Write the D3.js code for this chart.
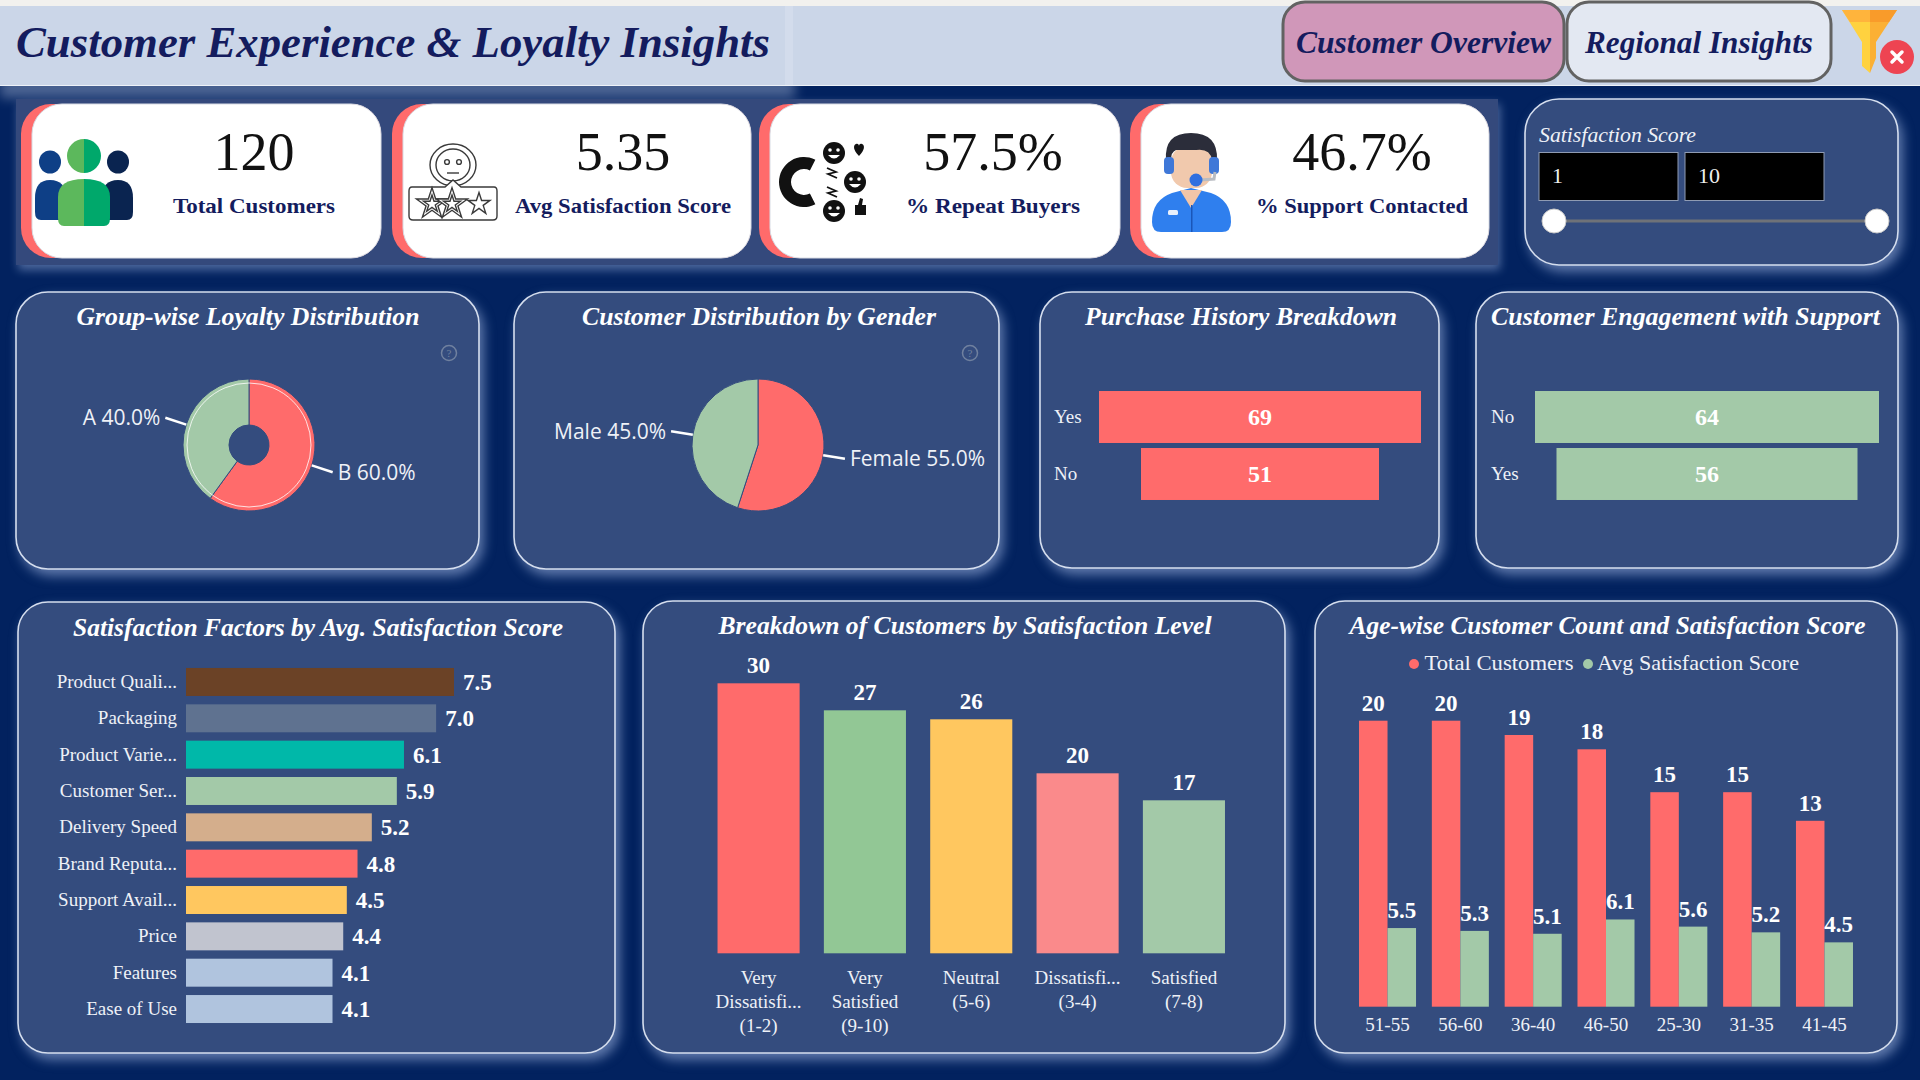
<!DOCTYPE html>
<html>
<head>
<meta charset="utf-8">
<script src="https://cdn.jsdelivr.net/npm/d3@7"></script>
<style>
  html, body { margin: 0; padding: 0; background: #02225f; }
  svg { display: block; position: absolute; left: 0; top: 0; }
  text { font-family: "Liberation Serif", serif; }
  .domain, .tick line { display: none; }
  .tick text { font-family: "Liberation Serif", serif; fill: #eef1f7; }
  .value { font-weight: bold; fill: #fff; text-anchor: middle; }
  .title { font-weight: bold; font-style: italic; fill: #fff; text-anchor: middle; }
</style>
</head>
<body>
<div id="chart"></div>
<script>
// ---- data ----
const kpiValues = ["120", "5.35", "57.5%", "46.7%"];
const kpiLabels = ["Total Customers", "Avg Satisfaction Score", "% Repeat Buyers", "% Support Contacted"];

const loyaltyGroups = ["B", "A"];
const loyaltyShares = [60, 40];
const genderGroups = ["Female", "Male"];
const genderShares = [55, 45];

const purchaseCats = ["Yes", "No"];
const purchaseVals = [69, 51];
const supportCats = ["No", "Yes"];
const supportVals = [64, 56];

const factorCats = ["Product Quali...", "Packaging", "Product Varie...", "Customer Ser...", "Delivery Speed",
  "Brand Reputa...", "Support Avail...", "Price", "Features", "Ease of Use"];
const factorVals = [7.5, 7.0, 6.1, 5.9, 5.2, 4.8, 4.5, 4.4, 4.1, 4.1];
const factorColors = ["#6b4226", "#5f7290", "#00b8a9", "#a3c9a8", "#d4ae8c", "#ff6b6b", "#ffc75f", "#c1c4cf", "#b0c4de", "#b0c4de"];

const levelCats = ["Very\nDissatisfi...\n(1-2)", "Very\nSatisfied\n(9-10)", "Neutral\n(5-6)", "Dissatisfi...\n(3-4)", "Satisfied\n(7-8)"];
const levelVals = [30, 27, 26, 20, 17];
const levelColors = ["#ff6b6b", "#92c795", "#ffc75f", "#fa8a8b", "#a3c9a8"];

const ageCats = ["51-55", "56-60", "36-40", "46-50", "25-30", "31-35", "41-45"];
const ageCustomers = [20, 20, 19, 18, 15, 15, 13];
const ageScores = [5.5, 5.3, 5.1, 6.1, 5.6, 5.2, 4.5];
const ageSeries = ["Total Customers", "Avg Satisfaction Score"];

const red = "#ff6b6b", green = "#a3c9a8", navy = "#141c5e";

const svg = d3.select("#chart").append("svg")
  .attr("width", 1920).attr("height", 1080)
  .attr("role", "img")
  .attr("aria-label", "Customer Experience and Loyalty Insights dashboard");

svg.append("rect").attr("width", 1920).attr("height", 1080).attr("fill", "#02225f");

// ---- header ----
svg.append("rect").attr("x", 0).attr("y", 0).attr("width", 1920).attr("height", 6).attr("fill", "#f2f1ee");
svg.append("rect").attr("x", 0).attr("y", 78).attr("width", 795).attr("height", 20).attr("fill", "#d6e0f5")
  .style("filter", "blur(6px)").attr("opacity", 0.35);
svg.append("rect").attr("x", 0).attr("y", 6).attr("width", 1920).attr("height", 79).attr("fill", "#cbd6e8");
svg.append("rect").attr("x", 785).attr("y", 6).attr("width", 8).attr("height", 79).attr("fill", "#d3dcec");
svg.append("line").attr("x1", 0).attr("x2", 1920).attr("y1", 85.5).attr("y2", 85.5).attr("stroke", "#eef2f8");

svg.append("text").attr("x", 16).attr("y", 57)
  .attr("font-size", 44).attr("font-weight", "bold").attr("font-style", "italic").attr("fill", navy)
  .attr("textLength", 754).attr("lengthAdjust", "spacingAndGlyphs")
  .text("Customer Experience & Loyalty Insights");

const navButtons = [
  { label: "Customer Overview", x: 1283, w: 281, fill: "#d097b9", tw: 255 },
  { label: "Regional Insights", x: 1567, w: 264, fill: "#e3e8f2", tw: 228 }
];
navButtons.forEach(b => {
  svg.append("rect").attr("x", b.x).attr("y", 2).attr("width", b.w).attr("height", 79).attr("rx", 22)
    .attr("fill", b.fill).attr("stroke", "#626262").attr("stroke-width", 3);
  svg.append("text").attr("x", b.x + b.w / 2).attr("y", 53).attr("text-anchor", "middle")
    .attr("font-size", 31).attr("font-weight", "bold").attr("font-style", "italic").attr("fill", navy)
    .attr("textLength", b.tw).attr("lengthAdjust", "spacingAndGlyphs")
    .text(b.label);
});

// filter icon
svg.append("path").attr("d", "M1842,10 L1870,10 L1870,73 L1862,66 L1862,42 Z").attr("fill", "#ffd23f");
svg.append("path").attr("d", "M1870,10 L1897,10 L1876,42 L1876,58 L1870,73 Z").attr("fill", "#fbb034");
svg.append("path").attr("d", "M1842,10 L1870,10 L1870,22 L1850,22 Z").attr("fill", "#ffb43c");
svg.append("path").attr("d", "M1870,10 L1897,10 L1889,22 L1870,22 Z").attr("fill", "#f99b2a");
svg.append("circle").attr("cx", 1897).attr("cy", 57).attr("r", 17).attr("fill", "#ee4452");
svg.append("path").attr("d", "M1892,52 L1902,62 M1902,52 L1892,62").attr("stroke", "#fff").attr("stroke-width", 3.5).attr("stroke-linecap", "round");

// ---- panels ----
function panel(x, y, w, h, r) {
  svg.append("rect").attr("x", x).attr("y", y).attr("width", w).attr("height", h).attr("rx", r)
    .attr("fill", "#344c7e").attr("stroke", "#d5deee").attr("stroke-width", 1.6)
    .style("filter", "drop-shadow(4px 6px 6px rgba(190,210,250,.5))");
}
function panelTitle(text, cx, y, width) {
  svg.append("text").attr("class", "title").attr("x", cx).attr("y", y)
    .attr("font-size", 25)
    .attr("textLength", width).attr("lengthAdjust", "spacingAndGlyphs")
    .text(text);
}

// ---- KPI band ----
svg.append("rect").attr("x", 16).attr("y", 99).attr("width", 1482).attr("height", 166)
  .attr("fill", "#34497c").style("filter", "drop-shadow(2px 5px 5px rgba(190,210,250,.4))");

const kpiCards = [
  { x: 21, w: 360, cx: 254, tw: 162 },
  { x: 392, w: 359, cx: 623, tw: 216 },
  { x: 759, w: 361, cx: 993, tw: 174 },
  { x: 1130, w: 359, cx: 1362, tw: 212 }
];
kpiCards.forEach((c, i) => {
  svg.append("rect").attr("x", c.x).attr("y", 104).attr("width", c.w).attr("height", 154).attr("rx", 30).attr("fill", red);
  svg.append("rect").attr("x", c.x + 11).attr("y", 104).attr("width", c.w - 11).attr("height", 154).attr("rx", 30)
    .attr("fill", "#fff").attr("stroke", "#d8dce4").attr("stroke-width", 1);
  svg.append("text").attr("x", c.cx).attr("y", 170).attr("text-anchor", "middle")
    .attr("font-size", 54).attr("fill", "#111").text(kpiValues[i]);
  svg.append("text").attr("x", c.cx).attr("y", 213).attr("text-anchor", "middle")
    .attr("font-size", 22).attr("font-weight", "bold").attr("fill", navy)
    .attr("textLength", c.tw).attr("lengthAdjust", "spacingAndGlyphs")
    .text(kpiLabels[i]);
});

// people icon
function person(cx, headR, headY, x0, x1, y0, y1, left, right) {
  svg.append("clipPath").attr("id", `lh${cx}`).append("rect").attr("x", x0 - 2).attr("y", 120).attr("width", cx - x0 + 2).attr("height", 120);
  svg.append("clipPath").attr("id", `rh${cx}`).append("rect").attr("x", cx).attr("y", 120).attr("width", x1 - cx + 2).attr("height", 120);
  [[`lh${cx}`, left], [`rh${cx}`, right]].forEach(([id, col]) => {
    const g = svg.append("g").attr("clip-path", `url(#${id})`);
    g.append("ellipse").attr("cx", cx).attr("cy", headY).attr("rx", headR).attr("ry", headR + (headR > 15 ? 0 : 0.5)).attr("fill", col);
    g.append("path").attr("d", `M${x0},${y1 - 8} L${x0},${y0 + 18} Q${x0},${y0} ${cx},${y0} Q${x1},${y0} ${x1},${y0 + 18} L${x1},${y1 - 8} Q${x1},${y1} ${x1 - 6},${y1} L${x0 + 6},${y1} Q${x0},${y1} ${x0},${y1 - 8} Z`).attr("fill", col);
  });
}
person(50, 11, 162, 35, 66, 180, 220, "#0e3f86", "#0e3f86");
person(118, 11, 162, 102, 133, 180, 220, "#0a2450", "#0a2450");
person(84, 17, 156, 58, 110, 179, 226, "#5cb85c", "#00a86b");

// rating icon
const rating = svg.append("g").attr("fill", "#fff").attr("stroke", "#3a3a3a").attr("stroke-width", 1.4);
rating.append("ellipse").attr("cx", 453).attr("cy", 165).attr("rx", 23).attr("ry", 21);
rating.append("ellipse").attr("cx", 453).attr("cy", 165).attr("rx", 17).attr("ry", 16);
rating.append("circle").attr("cx", 447).attr("cy", 162).attr("r", 2.4);
rating.append("circle").attr("cx", 459).attr("cy", 162).attr("r", 2.4);
rating.append("path").attr("d", "M447,173 L459,173");
rating.append("path").attr("d", "M412,187 L445,187 L453,180 L461,187 L494,187 Q497,187 497,191 L497,216 Q497,220 493,220 L413,220 Q409,220 409,216 L409,191 Q409,187 412,187 Z");
[[432, 300], [452, 300], [479, 150]].forEach(([x, s]) => {
  rating.append("path").attr("transform", `translate(${x},204)`).attr("d", d3.symbol(d3.symbolStar, s)());
  if (s > 200) rating.append("path").attr("transform", `translate(${x},204)`).attr("d", d3.symbol(d3.symbolStar, 90)());
});

// magnet and smiles icon
const magnet = svg.append("g");
magnet.append("path").attr("transform", "translate(804,182)")
  .attr("d", d3.arc().innerRadius(13).outerRadius(25).startAngle(Math.PI * 0.85).endAngle(Math.PI * 2.15)())
  .attr("fill", "#111");
[[834, 153], [855, 182], [834, 211]].forEach(([x, y]) => {
  magnet.append("circle").attr("cx", x).attr("cy", y).attr("r", 11).attr("fill", "#111");
  magnet.append("circle").attr("cx", x - 4).attr("cy", y - 3).attr("r", 1.8).attr("fill", "#fff");
  magnet.append("circle").attr("cx", x + 4).attr("cy", y - 3).attr("r", 1.8).attr("fill", "#fff");
  magnet.append("path").attr("d", `M${x - 6},${y + 2} Q${x},${y + 9} ${x + 6},${y + 2} Z`).attr("fill", "#fff");
});
magnet.append("path").attr("d", "M859,156 C853,150 853,145 856,144 C858,143 859,145 859,146 C859,145 860,143 862,144 C865,145 865,150 859,156 Z").attr("fill", "#111");
magnet.append("path").attr("d", "M855,205 L858,205 L860,198 L863,199 L862,205 L866,205 L866,215 L855,215 Z").attr("fill", "#111");
magnet.append("path").attr("d", "M827,168 L836,172 L828,174 L837,178 M827,187 L836,191 L828,193 L837,197").attr("fill", "none").attr("stroke", "#111").attr("stroke-width", 1.8);

// support agent icon
const agent = svg.append("g");
agent.append("path").attr("d", "M1152,222 Q1152,200 1172,193 L1191,188 L1211,193 Q1231,200 1231,222 Q1231,232 1222,232 L1161,232 Q1152,232 1152,222 Z").attr("fill", "#2f7fee");
agent.append("path").attr("d", "M1180,190 L1202,190 L1191,208 Z").attr("fill", "#f1c5a8");
agent.append("rect").attr("x", 1191).attr("y", 205).attr("width", 1.5).attr("height", 27).attr("fill", "#1a56b8");
agent.append("rect").attr("x", 1168).attr("y", 210).attr("width", 10).attr("height", 5).attr("rx", 1.5).attr("fill", "#e8f0fb");
agent.append("rect").attr("x", 1171).attr("y", 146).attr("width", 41).attr("height", 42).attr("rx", 16).attr("fill", "#f1c9ad");
agent.append("path").attr("d", "M1166,160 Q1164,133 1191,133 Q1218,133 1217,160 L1212,160 Q1210,148 1196,150 L1176,150 Q1171,152 1171,160 Z").attr("fill", "#2b2d3a");
agent.append("rect").attr("x", 1164).attr("y", 157).attr("width", 10).attr("height", 17).attr("rx", 4).attr("fill", "#3f78d8");
agent.append("rect").attr("x", 1209).attr("y", 157).attr("width", 10).attr("height", 17).attr("rx", 4).attr("fill", "#3f78d8");
agent.append("path").attr("d", "M1215,172 L1214,179 L1200,180").attr("fill", "none").attr("stroke", "#b9bcc2").attr("stroke-width", 3);
agent.append("circle").attr("cx", 1196).attr("cy", 180).attr("r", 6.5).attr("fill", "#2f6fe0");

// ---- slicer ----
panel(1525, 99, 373, 166, 34);
svg.append("text").attr("x", 1539).attr("y", 142).attr("font-size", 21).attr("font-style", "italic").attr("fill", "#eef1f7")
  .attr("textLength", 157).attr("lengthAdjust", "spacingAndGlyphs").text("Satisfaction Score");
[[1539, "1"], [1685, "10"]].forEach(([x, t]) => {
  svg.append("rect").attr("x", x).attr("y", 152.5).attr("width", 139).attr("height", 48)
    .attr("fill", "#000").attr("stroke", "#8f9bb3").attr("stroke-width", 1);
  svg.append("text").attr("x", x + 13).attr("y", 183).attr("font-size", 22).attr("fill", "#eee").text(t);
});
svg.append("line").attr("x1", 1554).attr("x2", 1877).attr("y1", 221).attr("y2", 221).attr("stroke", "#6f7278").attr("stroke-width", 3);
[1554, 1877].forEach(x => svg.append("circle").attr("cx", x).attr("cy", 221).attr("r", 12).attr("fill", "#fff").attr("stroke", "#c8c8c8"));

// ---- pies ----
function drawPie(names, shares, cx, cy, inner) {
  const pie = d3.pie().sort(null)(shares);
  const arc = d3.arc().innerRadius(inner).outerRadius(66);
  const g = svg.append("g").attr("transform", `translate(${cx},${cy})`);
  g.selectAll("path.slice").data(pie).join("path")
    .attr("class", "slice")
    .attr("d", arc)
    .attr("fill", (d, i) => i === 0 ? red : green)
    .attr("stroke", "#344c7e").attr("stroke-width", 1);
  if (inner > 0) g.append("circle").attr("r", 62).attr("fill", "none").attr("stroke", "#fff").attr("stroke-width", 1).attr("opacity", 0.8);

  const edge = d3.arc().innerRadius(66).outerRadius(66);
  const tip = d3.arc().innerRadius(88).outerRadius(88);
  g.selectAll("path.leader").data(pie).join("path")
    .attr("class", "leader")
    .attr("d", d => `M${edge.centroid(d)}L${tip.centroid(d)}`)
    .attr("stroke", "#fff").attr("stroke-width", 2.5).attr("fill", "none");
  g.selectAll("text").data(pie).join("text")
    .attr("transform", d => {
      const [x, y] = tip.centroid(d);
      return `translate(${x + (x < 0 ? -5 : 5)},${y})`;
    })
    .attr("dy", "0.35em")
    .attr("text-anchor", d => tip.centroid(d)[0] < 0 ? "end" : "start")
    .style("font-family", '"Open Sans", sans-serif')
    .attr("font-size", 21).attr("fill", "#eef1f7")
    .text((d, i) => `${names[i]} ${d.value.toFixed(1)}%`);
}
function helpIcon(x, y) {
  svg.append("circle").attr("cx", x).attr("cy", y).attr("r", 7.5).attr("fill", "none").attr("stroke", "#70819f").attr("stroke-width", 1.5);
  svg.append("text").attr("x", x).attr("y", y + 4).attr("text-anchor", "middle").attr("font-size", 11).attr("fill", "#70819f").text("?");
}

panel(16, 292, 463, 277, 32);
panelTitle("Group-wise Loyalty Distribution", 248, 325, 343);
helpIcon(449, 353);
drawPie(loyaltyGroups, loyaltyShares, 249, 445, 20);

panel(514, 292, 485, 277, 32);
panelTitle("Customer Distribution by Gender", 759, 325, 354);
helpIcon(970, 353);
drawPie(genderGroups, genderShares, 758, 445, 0);

// ---- funnels ----
function drawFunnel(cats, vals, color, cx, width, labelX) {
  const x = d3.scaleLinear().domain([0, d3.max(vals)]).range([0, width]);
  const y = d3.scaleBand().domain(cats).range([388.5, 502.5]).paddingInner(0.088).paddingOuter(0.044);
  const rows = cats.map((c, i) => ({ c, v: vals[i] }));
  svg.selectAll(null).data(rows).join("rect")
    .attr("x", d => cx - x(d.v) / 2)
    .attr("y", d => y(d.c))
    .attr("width", d => x(d.v))
    .attr("height", y.bandwidth())
    .attr("fill", color);
  svg.selectAll(null).data(rows).join("text")
    .attr("class", "value")
    .attr("x", cx)
    .attr("y", d => y(d.c) + y.bandwidth() / 2)
    .attr("dy", "0.35em")
    .attr("font-size", 24)
    .text(d => d.v);
  svg.append("g").attr("transform", `translate(${labelX},0)`)
    .call(d3.axisLeft(y).tickSize(0).tickPadding(0))
    .call(g => g.selectAll("text").attr("text-anchor", "start").attr("font-size", 19));
}

panel(1040, 292, 399, 276, 32);
panelTitle("Purchase History Breakdown", 1241, 325, 312);
drawFunnel(purchaseCats, purchaseVals, red, 1260, 322, 1054);

panel(1476, 292, 422, 276, 32);
panelTitle("Customer Engagement with Support", 1685.5, 325, 389);
drawFunnel(supportCats, supportVals, green, 1707, 344, 1491);

// ---- satisfaction factors ----
panel(18, 602, 597, 451, 30);
panelTitle("Satisfaction Factors by Avg. Satisfaction Score", 318, 636, 490);
{
  const x = d3.scaleLinear().domain([0, 7.5]).range([186, 454]);
  const y = d3.scaleBand().domain(factorCats).range([663.8, 1027.2]).paddingInner(0.23).paddingOuter(0.115);
  const rows = factorCats.map((c, i) => ({ c, v: factorVals[i], color: factorColors[i] }));
  svg.selectAll(null).data(rows).join("rect")
    .attr("x", x(0)).attr("y", d => y(d.c))
    .attr("width", d => x(d.v) - x(0)).attr("height", y.bandwidth())
    .attr("fill", d => d.color);
  svg.selectAll(null).data(rows).join("text")
    .attr("class", "value")
    .attr("x", d => x(d.v) + 9).attr("y", d => y(d.c) + y.bandwidth() / 2)
    .attr("dy", "0.35em").attr("font-size", 23).style("text-anchor", "start")
    .text(d => d.v.toFixed(1));
  svg.append("g").attr("transform", "translate(177,0)")
    .call(d3.axisLeft(y).tickSize(0).tickPadding(0))
    .call(g => g.selectAll("text").attr("font-size", 19));
}

// ---- satisfaction levels ----
panel(643, 601, 642, 452, 30);
panelTitle("Breakdown of Customers by Satisfaction Level", 965, 634, 493);
{
  const x = d3.scaleBand().domain(levelCats).range([705.4, 1237.1]).paddingInner(0.228).paddingOuter(0.114);
  const y = d3.scaleLinear().domain([0, 30]).range([953.3, 683.3]);
  const rows = levelCats.map((c, i) => ({ c, v: levelVals[i], color: levelColors[i] }));
  svg.selectAll(null).data(rows).join("rect")
    .attr("x", d => x(d.c)).attr("y", d => y(d.v))
    .attr("width", x.bandwidth()).attr("height", d => y(0) - y(d.v))
    .attr("fill", d => d.color);
  svg.selectAll(null).data(rows).join("text")
    .attr("class", "value")
    .attr("x", d => x(d.c) + x.bandwidth() / 2).attr("y", d => y(d.v) - 10)
    .attr("font-size", 23)
    .text(d => d.v);
  svg.append("g").attr("transform", "translate(0,953.3)")
    .call(d3.axisBottom(x).tickSize(0).tickFormat(""))
    .call(g => g.selectAll(".tick text").each(function (d) {
      const t = d3.select(this).attr("y", 31).attr("dy", null).attr("font-size", 19);
      d.split("\n").forEach((line, i) => {
        t.append("tspan").attr("x", 0).attr("y", 31 + i * 24).text(line);
      });
    }));
}

// ---- age groups ----
panel(1315, 601, 582, 452, 30);
panelTitle("Age-wise Customer Count and Satisfaction Score", 1607.5, 634, 516);
{
  const x0 = d3.scaleBand().domain(ageCats).range([1351, 1861]).paddingInner(0.217).paddingOuter(0.11);
  const x1 = d3.scaleBand().domain(ageSeries).range([0, x0.bandwidth()]);
  const y = d3.scaleLinear().domain([0, 20]).range([1006.7, 720.7]);
  const seriesVals = [ageCustomers, ageScores];
  const seriesCols = [red, green];
  const fmt = [d => d, d => d.toFixed(1)];
  ageSeries.forEach((name, s) => {
    const rows = ageCats.map((c, i) => ({ c, v: seriesVals[s][i] }));
    svg.selectAll(null).data(rows).join("rect")
      .attr("x", d => x0(d.c) + x1(name)).attr("y", d => y(d.v))
      .attr("width", x1.bandwidth()).attr("height", d => y(0) - y(d.v))
      .attr("fill", seriesCols[s]);
    svg.selectAll(null).data(rows).join("text")
      .attr("class", "value")
      .attr("x", d => x0(d.c) + x1(name) + x1.bandwidth() / 2).attr("y", d => y(d.v) - 10)
      .attr("font-size", 23)
      .text(d => fmt[s](d.v));
  });
  svg.append("g").attr("transform", "translate(0,1006.7)")
    .call(d3.axisBottom(x0).tickSize(0).tickPadding(0))
    .call(g => g.selectAll("text").attr("y", 24).attr("dy", null).attr("font-size", 19));

  // legend
  [[1414, 1424.5, 149], [1588, 1597, 202]].forEach(([dot, tx, tw], s) => {
    svg.append("circle").attr("cx", dot).attr("cy", 664).attr("r", 5).attr("fill", seriesCols[s]);
    svg.append("text").attr("x", tx).attr("y", 670).attr("font-size", 21).attr("fill", "#eef1f7")
      .attr("textLength", tw).attr("lengthAdjust", "spacingAndGlyphs").text(ageSeries[s]);
  });
}
</script>
</body>
</html>
